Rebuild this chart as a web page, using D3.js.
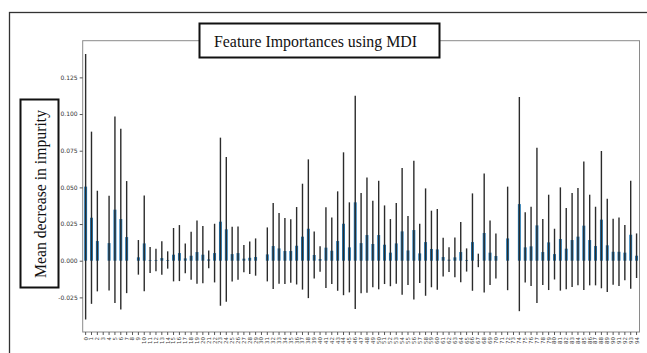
<!DOCTYPE html>
<html lang="en">
<head>
<meta charset="UTF-8">
<title>Feature Importances using MDI</title>
<script src="https://d3js.org/d3.v7.min.js"></script>
<style>
  body { margin: 0; background: #fff; }
  svg { display: block; }
</style>
</head>
<body>
<svg id="chart" width="647" height="353"></svg>
<script>
// feature ids 0..94
const features = d3.range(95).map(String);

// mean decrease in impurity per feature
const importances = [
  0.0505, 0.0293, 0.0134, 0, 0.0120, 0.0348, 0.0284, 0.0161, 0, 0.0023,
  0.0118, 0.0005, 0.0005, 0.0018, 0.0005, 0.0041, 0.0052, 0.0016, 0.0034, 0.0059,
  0.0041, 0.0009, 0.0052, 0.0266, 0.0214, 0.0045, 0.0052, 0.0014, 0.0020, 0.0025,
  0, 0.0043, 0.0100, 0.0084, 0.0066, 0.0066, 0.0102, 0.0164, 0.0218, 0.0039,
  0.0011, 0.0089, 0.0068, 0.0134, 0.0252, 0.0091, 0.0398, 0.0120, 0.0175, 0.0114,
  0.0175, 0.0109, 0.0055, 0.0118, 0.0200, 0.0070, 0.0209, 0.0050, 0.0127, 0.0080,
  0.0077, 0.0025, 0.0007, 0.0023, 0.0059, 0.0005, 0.0127, 0.0002, 0.0189, 0.0055,
  0.0032, 0, 0.0152, 0, 0.0386, 0.0091, 0.0098, 0.0241, 0.0059, 0.0125,
  0.0045, 0.0148, 0.0082, 0.0141, 0.0164, 0.0239, 0.0141, 0.0100, 0.0280, 0.0105,
  0.0061, 0.0061, 0.0055, 0.0177, 0.0034
];

// standard deviation across trees
const stds = [
  0.0905, 0.0587, 0.0343, 0, 0.0323, 0.0636, 0.0616, 0.0382, 0, 0.0118,
  0.0327, 0.0088, 0.0077, 0.0114, 0.0059, 0.0182, 0.0191, 0.0102, 0.0164, 0.0216,
  0.0195, 0.0061, 0.0200, 0.0573, 0.0493, 0.0186, 0.0182, 0.0093, 0.0111, 0.0127,
  0, 0.0184, 0.0293, 0.0241, 0.0225, 0.0216, 0.0264, 0.0361, 0.0473, 0.0161,
  0.0087, 0.0275, 0.0227, 0.0339, 0.0487, 0.0307, 0.0727, 0.0341, 0.0393, 0.0295,
  0.0370, 0.0268, 0.0229, 0.0275, 0.0432, 0.0235, 0.0473, 0.0202, 0.0366, 0.0261,
  0.0275, 0.0132, 0.0084, 0.0136, 0.0205, 0.0079, 0.0332, 0.0046, 0.0406, 0.0220,
  0.0154, 0, 0.0353, 0, 0.0730, 0.0239, 0.0270, 0.0529, 0.0225, 0.0325,
  0.0173, 0.0352, 0.0277, 0.0320, 0.0331, 0.0438, 0.0309, 0.0268, 0.0468, 0.0318,
  0.0225, 0.0234, 0.0188, 0.0368, 0.0152
];

const yTicks = [-0.025, 0, 0.025, 0.05, 0.075, 0.1, 0.125];

const svg = d3.select("#chart");
const plot = { left: 82.7, right: 639.5, top: 40.7, bottom: 332 };

const x = d3.scaleBand()
  .domain(features)
  .range([plot.left, plot.right])
  .paddingInner(0.5)
  .paddingOuter(0.25);

const y = d3.scaleLinear()
  .domain([-0.0486, 0.15])
  .range([plot.bottom, plot.top]);

// outer frame
svg.append("rect")
  .attr("x", 9.5).attr("y", 12.5)
  .attr("width", 700).attr("height", 400)
  .attr("fill", "none")
  .attr("stroke", "#333")
  .attr("stroke-width", 1.3);

// bars
const rows = features.map((f, i) => ({ f, v: importances[i], s: stds[i] }));

svg.append("g").selectAll("rect")
  .data(rows)
  .join("rect")
  .attr("x", d => x(d.f))
  .attr("width", x.bandwidth())
  .attr("y", d => y(Math.max(0, d.v)))
  .attr("height", d => Math.abs(y(d.v) - y(0)))
  .attr("fill", "#1f77b4");

// error bars
svg.append("g").selectAll("line")
  .data(rows.filter(d => d.s > 0))
  .join("line")
  .attr("x1", d => x(d.f) + x.bandwidth() / 2)
  .attr("x2", d => x(d.f) + x.bandwidth() / 2)
  .attr("y1", d => y(d.v + d.s))
  .attr("y2", d => y(d.v - d.s))
  .attr("stroke", "#2b2b2b")
  .attr("stroke-width", 1.4);

// spines
svg.append("rect")
  .attr("x", plot.left).attr("y", plot.top)
  .attr("width", plot.right - plot.left)
  .attr("height", plot.bottom - plot.top)
  .attr("fill", "none")
  .attr("stroke", "#8a8a8a")
  .attr("stroke-width", 1);

// y axis
const yAxis = svg.append("g")
  .attr("transform", `translate(${plot.left},0)`)
  .call(d3.axisLeft(y).tickValues(yTicks).tickFormat(d3.format(".3f")).tickSize(3).tickPadding(2));
yAxis.select(".domain").remove();
yAxis.selectAll("line").attr("stroke", "#555");
yAxis.selectAll("text")
  .attr("fill", "#333")
  .style("font-family", "DejaVu Sans, sans-serif")
  .style("font-size", "6px")
  .text(d => d3.format(".3f")(d).replace("−", "-"));

// x axis
const xAxis = svg.append("g")
  .attr("transform", `translate(0,${plot.bottom})`)
  .call(d3.axisBottom(x).tickSize(3).tickPadding(2));
xAxis.select(".domain").remove();
xAxis.selectAll("line").attr("stroke", "#555");
xAxis.selectAll("text")
  .attr("fill", "#444")
  .style("font-family", "DejaVu Sans, sans-serif")
  .style("font-size", "5.5px")
  .attr("transform", "rotate(-90)")
  .attr("text-anchor", "end")
  .attr("x", -5)
  .attr("y", 0)
  .attr("dy", "0.35em");

// title box
svg.append("rect")
  .attr("x", 199.5).attr("y", 23.5)
  .attr("width", 240).attr("height", 34)
  .attr("fill", "#fff")
  .attr("stroke", "#111")
  .attr("stroke-width", 2);
svg.append("text")
  .attr("x", 214).attr("y", 46.5)
  .attr("textLength", 203)
  .attr("lengthAdjust", "spacingAndGlyphs")
  .style("font-family", "Liberation Serif, Times New Roman, serif")
  .style("font-size", "17px")
  .attr("fill", "#111")
  .text("Feature Importances using MDI");

// y label box
svg.append("rect")
  .attr("x", 20.5).attr("y", 99.5)
  .attr("width", 38).attr("height", 188)
  .attr("fill", "#fff")
  .attr("stroke", "#111")
  .attr("stroke-width", 2);
svg.append("text")
  .attr("transform", "translate(45.5,278) rotate(-90)")
  .attr("textLength", 168)
  .attr("lengthAdjust", "spacingAndGlyphs")
  .style("font-family", "Liberation Serif, Times New Roman, serif")
  .style("font-size", "17px")
  .attr("fill", "#111")
  .text("Mean decrease in impurity");
</script>
</body>
</html>
